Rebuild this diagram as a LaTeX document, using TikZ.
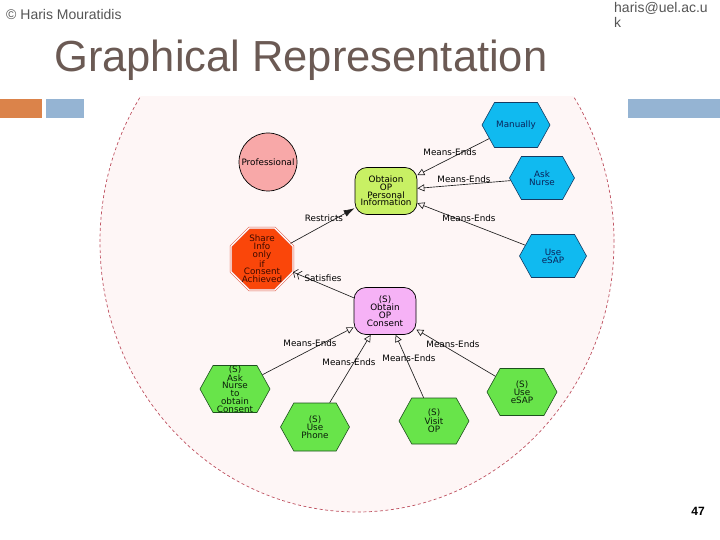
\documentclass[tikz,border=0pt]{standalone}
\usepackage{fontspec}
\setmainfont{Liberation Sans}
\newfontfamily\dvfont{DejaVu Sans}
\usetikzlibrary{shapes.geometric,shapes.symbols,arrows.meta}
\definecolor{titlec}{RGB}{107,90,84}
\definecolor{graytext}{RGB}{85,85,85}
\definecolor{orangebar}{RGB}{219,131,74}
\definecolor{bluebar}{RGB}{149,180,211}
\definecolor{bgpink}{RGB}{254,246,246}
\definecolor{dashc}{RGB}{190,80,95}
\definecolor{hexblue}{RGB}{16,186,240}
\definecolor{hexblueline}{RGB}{20,60,100}
\definecolor{bluetext}{RGB}{10,35,90}
\definecolor{hexgreen}{RGB}{104,228,74}
\definecolor{hexgreenline}{RGB}{30,80,30}
\definecolor{greentext}{RGB}{10,30,10}
\definecolor{goalgreen}{RGB}{200,240,100}
\definecolor{goalpink}{RGB}{246,178,246}
\definecolor{profpink}{RGB}{248,168,168}
\definecolor{octred}{RGB}{250,70,10}
\definecolor{octline}{RGB}{225,90,70}
\definecolor{octtext}{RGB}{60,10,0}
\definecolor{linec}{RGB}{30,30,30}
\tikzset{
  ntext/.style={font=\dvfont\fontsize{8.8}{7.8}\selectfont, align=center, inner sep=0pt},
  lbl/.style={font=\dvfont\fontsize{8.8}{10}\selectfont, inner sep=0pt, text=black},
  hexbase/.style={signal, signal to=east and west, signal pointer angle=122,
    inner sep=0pt, line width=0.6pt},
  hexb/.style={hexbase, fill=hexblue, draw=hexblueline},
  hexg/.style={hexbase, fill=hexgreen, draw=hexgreenline},
  goalbox/.style={rectangle, rounded corners=12pt, draw=black, line width=0.7pt,
    minimum width=62pt, minimum height=47pt, ntext},
  conn/.style={draw=linec, line width=0.65pt},
  meconn/.style={conn, -{Triangle[open, length=7pt, width=7pt]}},
  restrconn/.style={conn, -{Latex[length=11pt, width=7pt]}},
  satconn/.style={conn, -{Straight Barb[length=3.5pt, width=9pt] Straight Barb[length=3.5pt, width=9pt]}}
}
\begin{document}
\begin{tikzpicture}[x=1pt,y=-1pt]
\useasboundingbox (0,0) rectangle (720,540);
\fill[white] (0,0) rectangle (720,540);

% header
\node[anchor=base west, inner sep=0pt, text=graytext, font=\fontsize{14}{16}\selectfont] (copy) at (6,20) {\textcopyright{} Haris Mouratidis};
\node[anchor=base west, inner sep=0pt, text=graytext, align=left, font=\fontsize{14}{15}\selectfont] (email) at (614,28) {haris@uel.ac.u\\k};
\node[anchor=base west, inner sep=0pt, text=titlec, font=\fontsize{43.5}{50}\selectfont] (title) at (54,72) {Graphical Representation};
\fill[orangebar] (0,99) rectangle (42,118);
\fill[bluebar] (46,99) rectangle (84,118);
\fill[bluebar] (628,99) rectangle (720,118);
\node[anchor=base, inner sep=0pt, font=\bfseries\fontsize{12}{14}\selectfont] (pagenum) at (698,515) {47};

% background of the diagram
\begin{scope}
  \clip (90,97) rectangle (630,540);
  \draw[dashc, line width=0.7pt, dash pattern=on 3pt off 2.5pt, fill=bgpink]
    (357,242) ellipse [x radius=257pt, y radius=270pt];
\end{scope}

% nodes
\node[hexb, minimum width=68pt, minimum height=45pt,
  label={[ntext, text=bluetext]center:Manually}] (man) at (516,125) {};
\node[hexb, minimum width=65pt, minimum height=43pt,
  label={[ntext, text=bluetext]center:{Ask\\Nurse}}] (ask) at (542,178) {};
\node[hexb, minimum width=67pt, minimum height=43pt,
  label={[ntext, text=bluetext]center:{Use\\eSAP}}] (besap) at (553,256) {};

\node[goalbox, fill=goalgreen] (obt) at (386,191) {Obtaion\\OP\\Personal\\Information};
\node[circle, draw=black, line width=0.7pt, fill=profpink, minimum size=58pt, ntext] (prof) at (268,162) {Professional};
\node[regular polygon, regular polygon sides=8, minimum size=67pt, inner sep=0pt,
  fill=octred, draw=octline, double=white, double distance=1.3pt, line width=0.5pt,
  label={[ntext, text=octtext]center:{Share\\Info\\only\\if\\Consent\\Achieved}}] (share) at (262,259) {};
\node[goalbox, fill=goalpink] (cons) at (385,311) {(S)\\Obtain\\OP\\Consent};

\node[hexg, minimum width=70pt, minimum height=47pt,
  label={[ntext, text=greentext]center:{(S)\\Ask\\Nurse\\to\\obtain\\Consent}}] (sask) at (235,389) {};
\node[hexg, minimum width=69pt, minimum height=48pt,
  label={[ntext, text=greentext]center:{(S)\\Use\\Phone}}] (sphone) at (315,427) {};
\node[hexg, minimum width=70pt, minimum height=46pt,
  label={[ntext, text=greentext]center:{(S)\\Visit\\OP}}] (svisit) at (434,421) {};
\node[hexg, minimum width=70pt, minimum height=47pt,
  label={[ntext, text=greentext]center:{(S)\\Use\\eSAP}}] (sesap) at (522,392) {};

% connectors
\draw[meconn] (man) -- (obt);
\draw[meconn] (ask) -- (obt);
\draw[meconn] (besap) -- (obt);
\draw[restrconn] (share) -- (obt);
\draw[satconn] (cons) -- (share);
\draw[meconn] (sask) -- (cons);
\draw[meconn] (sphone) -- (cons);
\draw[meconn] (svisit) -- (cons);
\draw[meconn] (sesap) -- (cons);

% connector labels
\node[lbl] (l1) at (450,152) {Means-Ends};
\node[lbl] (l2) at (464,179) {Means-Ends};
\node[lbl] (l3) at (469,218) {Means-Ends};
\node[lbl] (l4) at (324,218) {Restricts};
\node[lbl] (l5) at (323,278) {Satisfies};
\node[lbl] (l6) at (310,343) {Means-Ends};
\node[lbl] (l7) at (349,362) {Means-Ends};
\node[lbl] (l8) at (409,358) {Means-Ends};
\node[lbl] (l9) at (453,344) {Means-Ends};
\end{tikzpicture}
\end{document}
